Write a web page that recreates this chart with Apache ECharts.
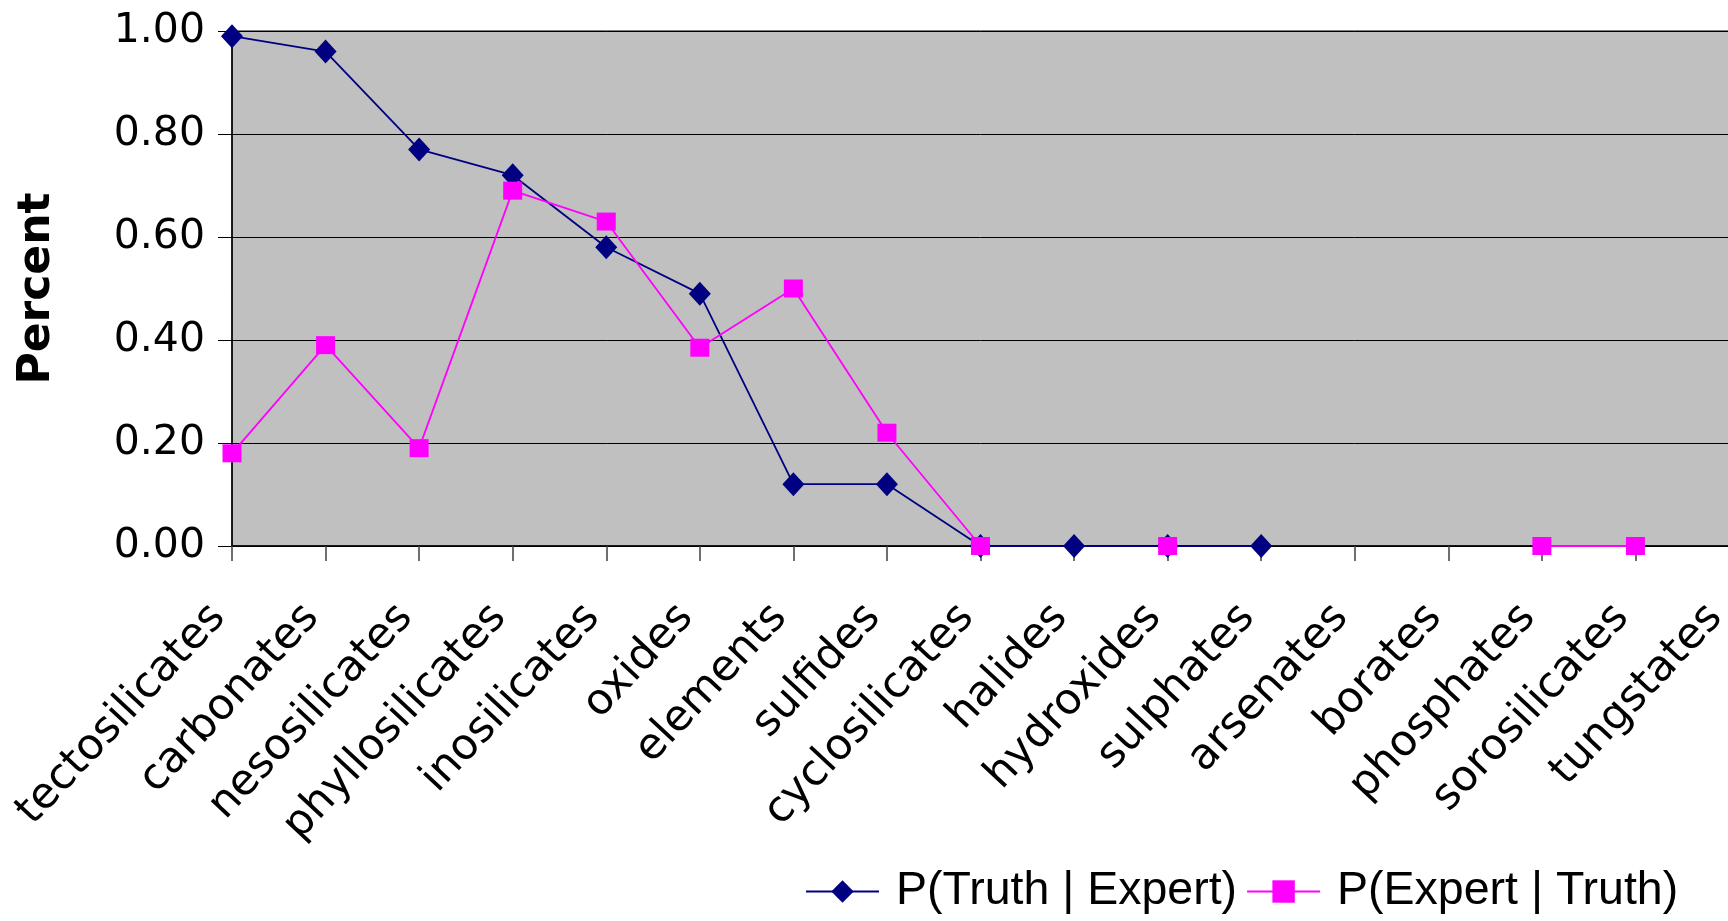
<!DOCTYPE html>
<html>
<head>
<meta charset="utf-8">
<title>Mineral class agreement</title>
<script src="https://cdn.jsdelivr.net/npm/echarts@6/dist/echarts.min.js"></script>
<style>
  html, body { margin: 0; padding: 0; background: #ffffff; }
  #chart { width: 1728px; height: 921px; }
</style>
</head>
<body>
<div id="chart"></div>
<script>
// Mineral classes along the category axis
const categories = [
  'tectosilicates', 'carbonates', 'nesosilicates', 'phyllosilicates',
  'inosilicates', 'oxides', 'elements', 'sulfides', 'cyclosilicates',
  'halides', 'hydroxides', 'sulphates', 'arsenates', 'borates',
  'phosphates', 'sorosilicates', 'tungstates'
];

// P(Truth | Expert); null where a class has no value
const truthGivenExpert = [
  0.99, 0.96, 0.77, 0.72, 0.58, 0.49, 0.12, 0.12, 0.00,
  0.00, 0.00, 0.00, null, null, null, null, null
];

// P(Expert | Truth); null where a class has no value
const expertGivenTruth = [
  0.18, 0.39, 0.19, 0.69, 0.63, 0.385, 0.50, 0.22, 0.00,
  null, 0.00, null, null, null, 0.00, 0.00, null
];

const seriesNames = ['P(Truth | Expert)', 'P(Expert | Truth)'];
const yTicks = [0, 0.2, 0.4, 0.6, 0.8, 1.0];

const chart = echarts.init(document.getElementById('chart'), null, { renderer: 'canvas' });

chart.setOption({
  animation: false,
  backgroundColor: '#ffffff',
  grid: {
    left: 232,
    top: 31,
    width: 1497,
    height: 515,
    outerBoundsMode: 'none',
    containLabel: false,
    show: true,
    backgroundColor: '#c0c0c0',
    borderWidth: 1,
    borderColor: '#000000'
  },
  legend: {
    data: seriesNames,
    left: 805,
    top: 868,
    padding: 0,
    itemWidth: 73,
    itemHeight: 28,
    itemGap: 9,
    textStyle: {
      fontFamily: 'Liberation Sans',
      fontSize: 46.5,
      color: '#000000',
      padding: [0, 0, 0, 12]
    }
  },
  xAxis: {
    type: 'category',
    data: categories,
    boundaryGap: false,
    axisLine: { show: true, lineStyle: { color: '#000000', width: 1.5 } },
    axisTick: {
      show: true,
      alignWithLabel: true,
      length: 15,
      lineStyle: { color: '#404040', width: 1.5 }
    },
    axisLabel: {
      interval: 0,
      rotate: 47,
      margin: 50,
      padding: [0, 20, 0, 0],
      fontFamily: 'DejaVu Sans',
      fontSize: 43,
      color: '#000000'
    },
    splitLine: { show: false }
  },
  yAxis: {
    type: 'value',
    min: yTicks[0],
    max: yTicks[yTicks.length - 1],
    interval: 0.2,
    name: 'Percent',
    nameLocation: 'middle',
    nameGap: 172,
    nameRotate: 90,
    nameTextStyle: {
      fontFamily: 'DejaVu Sans',
      fontWeight: 'bold',
      fontSize: 44,
      color: '#000000'
    },
    axisLine: { show: true, lineStyle: { color: '#000000', width: 1.5 } },
    axisTick: { show: true, length: 14, lineStyle: { color: '#000000', width: 1 } },
    axisLabel: {
      margin: 27,
      fontFamily: 'DejaVu Sans',
      fontSize: 41,
      color: '#000000',
      formatter: v => v.toFixed(2)
    },
    splitLine: { show: true, lineStyle: { color: '#000000', width: 1 } }
  },
  series: [
    {
      name: seriesNames[0],
      type: 'line',
      data: truthGivenExpert,
      connectNulls: false,
      symbol: 'diamond',
      symbolSize: [22, 24],
      color: '#000080',
      itemStyle: { color: '#000080' },
      lineStyle: { color: '#000080', width: 1.8 },
      z: 2
    },
    {
      name: seriesNames[1],
      type: 'line',
      data: expertGivenTruth,
      connectNulls: false,
      symbol: 'rect',
      symbolSize: [19, 18],
      color: '#ff00ff',
      itemStyle: { color: '#ff00ff' },
      lineStyle: { color: '#ff00ff', width: 1.8 },
      z: 3
    }
  ]
});
</script>
</body>
</html>
